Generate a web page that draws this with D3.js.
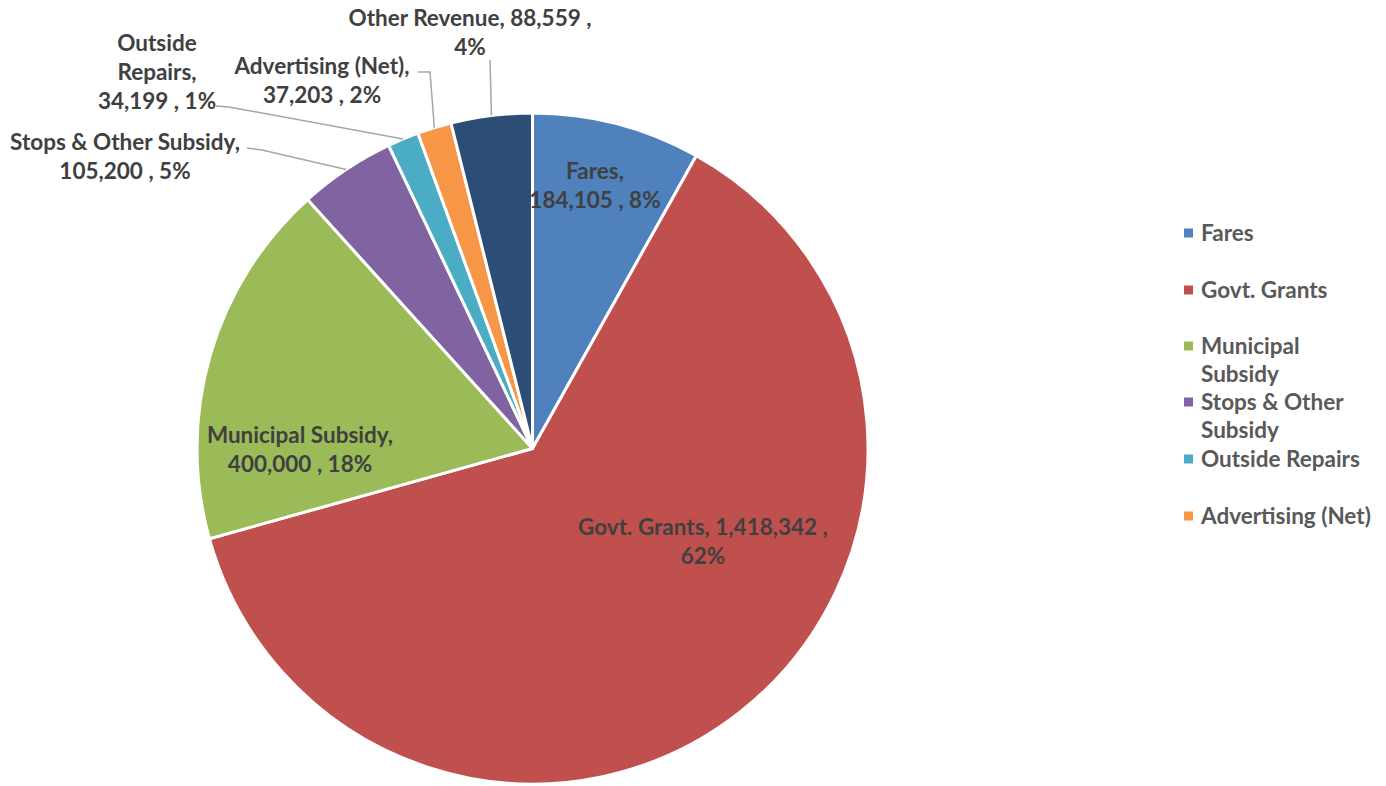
<!DOCTYPE html>
<html>
<head>
<meta charset="utf-8">
<script src="https://cdn.jsdelivr.net/npm/d3@7"></script>
<style>
	body { margin: 0; background: #fff; }
	svg { display: block; font-family: Lato, "Open Sans", sans-serif; font-weight: bold; }
</style>
</head>
<body>
<svg id="chart" width="1386" height="786"></svg>
<script>
// data
var categories = ["Fares", "Govt. Grants", "Municipal Subsidy", "Stops & Other Subsidy", "Outside Repairs", "Advertising (Net)", "Other Revenue"];
var values = [184105, 1418342, 400000, 105200, 34199, 37203, 88559];
// percentages as printed on the chart
var percents = [8, 62, 18, 5, 1, 2, 4];
var colors = ["#4F81BD", "#C0504D", "#9BBB59", "#8064A2", "#4BACC6", "#F79646", "#2C4D75"];
// legend only shows the first six entries in the original
var legendCount = 6;

var svg = d3.select("#chart");
var cx = 532.5, cy = 448.5, radius = 335.5;

var fmt = d3.format(",");
var valTxt = function(i) { return fmt(values[i]) + " , " + percents[i] + "%"; };

var slices = d3.pie().sort(null).value(function(d) { return d; })(values);
var arc = d3.arc().innerRadius(0).outerRadius(radius);

var g = svg.append("g").attr("transform", "translate(" + cx + "," + cy + ")");

g.selectAll("path.slice")
	.data(slices)
	.enter().append("path")
	.attr("class", "slice")
	.attr("d", arc)
	.attr("fill", function(d, i) { return colors[i]; })
	.attr("stroke", "#fff")
	.attr("stroke-width", 3)
	.attr("stroke-linejoin", "round");

/**
 * Label layout: text lines and where to put them (page coordinates).
 * 'leader' gives the bend points of the leader line; it ends on the arc.
 */
var labelLayout = [
	{ lines: function(i) { return [categories[i] + ",", valTxt(i)]; }, x: 595, y: 171 },
	{ lines: function(i) { return [categories[i] + ", " + fmt(values[i]) + " ,", percents[i] + "%"]; }, x: 703, y: 527 },
	{ lines: function(i) { return [categories[i] + ",", valTxt(i)]; }, x: 300, y: 435 },
	{ lines: function(i) { return [categories[i] + ",", valTxt(i)]; }, x: 125, y: 142, leader: [[247, 148], [262, 150]] },
	{ lines: function(i) { return ["Outside", "Repairs,", valTxt(i)]; }, x: 157, y: 43, leader: [[216, 106], [229, 107]] },
	{ lines: function(i) { return [categories[i] + ",", valTxt(i)]; }, x: 322, y: 66, leader: [[418, 72], [430, 72]] },
	{ lines: function(i) { return [categories[i] + ", " + fmt(values[i]) + " ,", percents[i] + "%"]; }, x: 470, y: 18, leader: [[490, 60]] }
];

var lineH = 29;

// leader lines
slices.forEach(function(d, i) {
	var lay = labelLayout[i];
	if (!lay.leader) return;
	var a = (d.startAngle + d.endAngle) / 2;
	var end = [cx + radius * Math.sin(a), cy - radius * Math.cos(a)];
	svg.append("path")
		.attr("d", d3.line()(lay.leader.concat([end])))
		.attr("fill", "none")
		.attr("stroke", "#A6A6A6")
		.attr("stroke-width", 1.5);
});

// data labels
slices.forEach(function(d, i) {
	var lay = labelLayout[i];
	var t = svg.append("text")
		.attr("text-anchor", "middle")
		.attr("fill", "#404040")
		.style("font-size", "22.5px");
	lay.lines(i).forEach(function(s, k) {
		t.append("tspan")
			.attr("x", lay.x)
			.attr("y", lay.y + k * lineH)
			.attr("dy", "0.35em")
			.text(s);
	});
});

// legend
var legendLines = [["Fares"], ["Govt. Grants"], ["Municipal", "Subsidy"], ["Stops & Other", "Subsidy"], ["Outside Repairs"], ["Advertising (Net)"]];
var legendY = [233, 290, 346, 402, 459, 516];

var legend = svg.append("g").attr("class", "legend");
categories.slice(0, legendCount).forEach(function(c, i) {
	var y = legendY[i];
	legend.append("rect")
		.attr("x", 1184)
		.attr("y", y - 4.5)
		.attr("width", 9)
		.attr("height", 9)
		.attr("fill", colors[i]);
	var t = legend.append("text")
		.attr("fill", "#595959")
		.style("font-size", "22.5px");
	legendLines[i].forEach(function(s, k) {
		t.append("tspan")
			.attr("x", 1201)
			.attr("y", y + k * 28.5)
			.attr("dy", "0.35em")
			.text(s);
	});
});
</script>
</body>
</html>
